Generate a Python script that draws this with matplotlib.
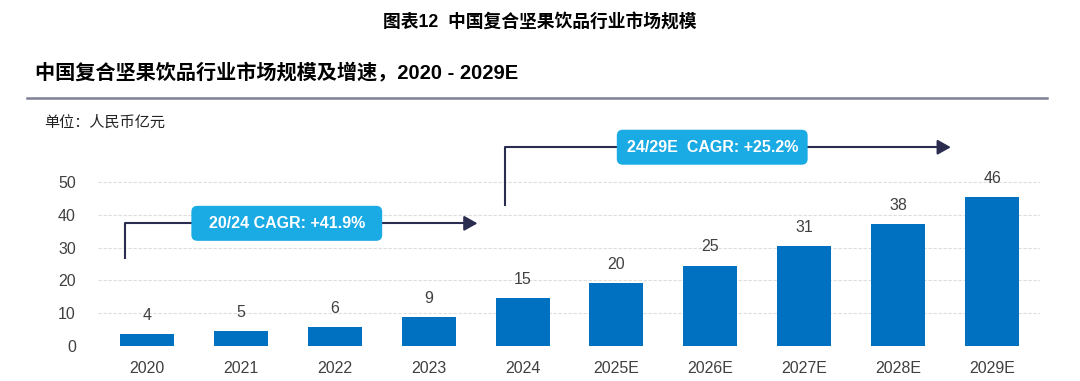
import matplotlib
matplotlib.use("Agg")
import matplotlib.pyplot as plt
from matplotlib.patches import FancyBboxPatch

plt.rcParams['font.family'] = ['Liberation Sans', 'Noto Sans CJK SC', 'DejaVu Sans']

categories = ["2020", "2021", "2022", "2023", "2024", "2025E", "2026E", "2027E", "2028E", "2029E"]
values = [3.6, 4.5, 5.8, 8.9, 14.5, 19.3, 24.5, 30.4, 37.3, 45.3]
value_labels = ["4", "5", "6", "9", "15", "20", "25", "31", "38", "46"]
yticks = [0, 10, 20, 30, 40, 50]
cagr1_text = "20/24 CAGR: +41.9%"
cagr2_text = "24/29E  CAGR: +25.2%"

BAR = "#0070C0"
BOX = "#1AAAE4"
LINE = "#2A2D4F"
TXT = "#404040"

fig = plt.figure(figsize=(10.8, 3.81), dpi=100)
W, H = 1080, 381

# axes: x from 98 to 1040 px, y zero at 346 px, 3.28 px/unit
PX_X = 94.0   # px per category
PX_Y = 3.28   # px per value unit
ymax = 62
ax = fig.add_axes([98 / W, 1 - 346 / H, (1040 - 98) / W, ymax * PX_Y / H])
x = list(range(len(categories)))
ax.bar(x, values, width=0.575, color=BAR, zorder=2)
for xi, v, lab in zip(x, values, value_labels):
    ax.text(xi, v + 3.4, lab, ha='center', va='bottom', fontsize=11.5, color=TXT)

ax.set_xlim(-0.52, 9.51)
ax.set_ylim(0, ymax)
ax.set_yticks(yticks)
ax.set_yticklabels([str(t) for t in yticks], fontsize=11.5, color=TXT)
ax.set_xticks(x)
ax.set_xticklabels(categories, fontsize=11.5, color=TXT)
ax.tick_params(axis='both', length=0)
ax.tick_params(axis='y', pad=16)
ax.tick_params(axis='x', pad=11)
for s in ax.spines.values():
    s.set_visible(False)
for t in yticks:
    ax.axhline(t, color='#DDDDDD', lw=0.8, ls=(0, (3, 1.5)), zorder=1)

# CAGR annotations
def cagr(x0, y0, y1, x1, xc, text, wpx=191, hpx=35):
    ax.plot([x0, x0, x1 - 0.12], [y0, y1, y1], color=LINE, lw=1.5, clip_on=False, zorder=3)
    ax.annotate("", xy=(x1, y1), xytext=(x1 - 0.15, y1),
                arrowprops=dict(arrowstyle='-|>,head_length=0.8,head_width=0.45',
                                color=LINE, lw=1.5), annotation_clip=False, zorder=3)
    w = wpx / PX_X
    h = hpx / PX_Y
    box = FancyBboxPatch((xc - w / 2, y1 - h / 2), w, h,
                         boxstyle="round,pad=0,rounding_size=%f" % (6 / PX_X),
                         mutation_aspect=PX_X / PX_Y, fc=BOX, ec='none',
                         clip_on=False, zorder=4)
    ax.add_patch(box)
    ax.text(xc, y1, text, ha='center', va='center', fontsize=11.5, color='white',
            fontweight='bold', zorder=5)

cagr(x[0] - 0.23, 26.8, 37.4, x[4] - 0.45, 1.49, cagr1_text)
cagr(x[4] - 0.19, 43.0, 60.6, x[9] - 0.41, 6.02, cagr2_text)

# header texts
fig.text(540 / W, 1 - 22 / H, "图表12  中国复合坚果饮品行业市场规模", ha='center', va='center',
         fontsize=12.8, fontweight='bold', color='black')
fig.text(35 / W, 1 - 73 / H, "中国复合坚果饮品行业市场规模及增速，2020 - 2029E", ha='left', va='center',
         fontsize=14.5, fontweight='bold', color='black')
fig.add_artist(plt.Line2D([27 / W, 1047 / W], [1 - 98 / H, 1 - 98 / H], color='#7E7F98', lw=1.8))
fig.text(44 / W, 1 - 123 / H, "单位：人民币亿元", ha='left', va='center', fontsize=10.9, color='#222222')

fig.savefig("out.png", dpi=100)
